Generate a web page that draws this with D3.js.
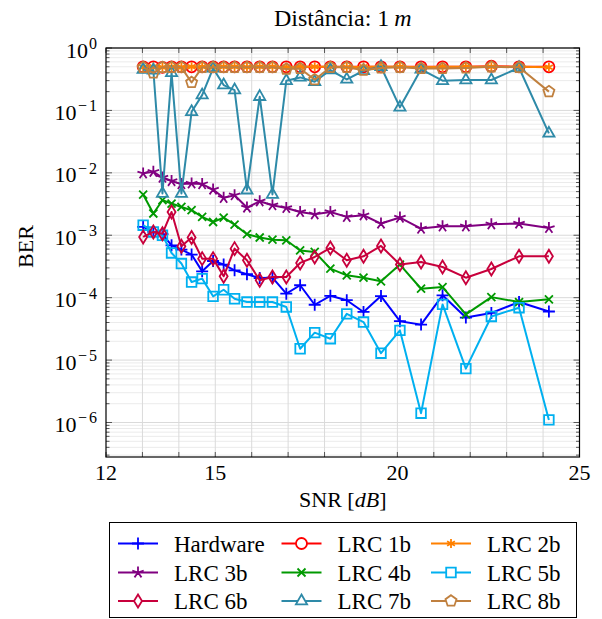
<!DOCTYPE html>
<html>
<head>
<meta charset="utf-8">
<script src="https://cdn.jsdelivr.net/npm/d3@7"></script>
</head>
<body style="margin:0">
<svg id="chart" width="602" height="619"></svg>
<script>
// SNR [dB] of each measurement point
const snr = [13.02, 13.30, 13.55, 13.80, 14.07, 14.35, 14.64, 14.94, 15.23, 15.53, 15.87, 16.22, 16.57, 16.95,
  17.33, 17.73, 18.16, 18.61, 19.07, 19.55, 20.07, 20.65, 21.24, 21.88, 22.58, 23.34, 24.16];

const hardware = [1.36e-3, 1.13e-3, 1.04e-3, 6.9e-4, 5.9e-4, 4.9e-4, 2.64e-4, 3.87e-4, 3.39e-4, 2.74e-4, 2.37e-4,
  2.06e-4, 2.09e-4, 1.16e-4, 1.58e-4, 7.7e-5, 1.07e-4, 9.1e-5, 5.9e-5, 1.06e-4, 4.2e-5, 3.7e-5, 1.09e-4, 4.8e-5,
  5.7e-5, 8.5e-5, 6.0e-5];
const lrc1b = [0.50, 0.50, 0.49, 0.50, 0.50, 0.50, 0.50, 0.50, 0.50, 0.50, 0.50, 0.50, 0.50, 0.50, 0.50, 0.50,
  0.50, 0.50, 0.50, 0.50, 0.50, 0.50, 0.50, 0.50, 0.51, 0.50, 0.50];
const lrc2b = [0.49, 0.50, 0.49, 0.50, 0.49, 0.50, 0.50, 0.49, 0.50, 0.50, 0.49, 0.50, 0.50, 0.49, 0.50, 0.50,
  0.50, 0.49, 0.50, 0.50, 0.50, 0.49, 0.50, 0.50, 0.50, 0.50, 0.49];
const lrc3b = [9.8e-3, 1.04e-2, 8.4e-3, 7.4e-3, 6.6e-3, 6.75e-3, 6.6e-3, 5.4e-3, 3.97e-3, 4.38e-3, 2.78e-3, 3.5e-3,
  3.03e-3, 2.74e-3, 2.36e-3, 2.17e-3, 2.36e-3, 1.97e-3, 2.09e-3, 1.54e-3, 1.92e-3, 1.28e-3, 1.39e-3, 1.39e-3,
  1.5e-3, 1.54e-3, 1.31e-3];
const lrc4b = [4.49e-3, 2.23e-3, 3.64e-3, 3.22e-3, 2.84e-3, 2.52e-3, 1.97e-3, 1.63e-3, 1.92e-3, 1.48e-3, 1.04e-3,
  9.2e-4, 8.5e-4, 8.3e-4, 5.7e-4, 5.4e-4, 2.92e-4, 2.28e-4, 2.09e-4, 1.83e-4, 3.39e-4, 1.39e-4, 1.48e-4, 5.4e-5,
  1.02e-4, 8.5e-5, 9.4e-5];
const lrc5b = [1.45e-3, 1.13e-3, 1.0e-3, 5.2e-4, 3.52e-4, 1.78e-4, 2.02e-4, 1.05e-4, 1.34e-4, 9.6e-5, 8.5e-5, 8.5e-5,
  8.5e-5, 7.1e-5, 1.52e-5, 2.75e-5, 2.2e-5, 5.5e-5, 4.07e-5, 1.29e-5, 2.99e-5, 1.41e-6, 7.8e-5, 7.3e-6, 5.0e-5,
  6.9e-5, 1.1e-6];
const lrc6b = [9.4e-4, 1.13e-3, 1.06e-3, 2.36e-3, 6.65e-4, 9.2e-4, 4.22e-4, 4.22e-4, 2.2e-4, 6.1e-4, 3.97e-4, 1.9e-4,
  2.14e-4, 2.14e-4, 3.6e-4, 4.49e-4, 6.25e-4, 3.97e-4, 4.6e-4, 6.73e-4, 3.39e-4, 3.73e-4, 3.1e-4, 2.09e-4, 2.88e-4,
  4.6e-4, 4.6e-4];
const lrc7b = [0.45, 0.44, 4.66e-3, 0.40, 4.66e-3, 0.095, 0.176, 0.472, 0.255, 0.212, 5.27e-3, 0.166, 4.5e-3, 0.299,
  0.338, 0.288, 0.443, 0.314, 0.432, 0.50, 0.112, 0.455, 0.299, 0.307, 0.307, 0.483, 0.0428];
const lrc8b = [0.49, 0.40, 0.49, 0.49, 0.49, 0.28, 0.49, 0.49, 0.49, 0.49, 0.49, 0.49, 0.49, 0.46, 0.47, 0.31, 0.49,
  0.49, 0.44, 0.48, 0.49, 0.47, 0.47, 0.48, 0.50, 0.49, 0.20];

const xTickLabels = [12, 15, 20, 25];
const yDecades = [0, -1, -2, -3, -4, -5, -6];

const series = [
  { name: 'Hardware', values: hardware, color: '#0000ff', mark: 'plus' },
  { name: 'LRC 1b', values: lrc1b, color: '#ff0000', mark: 'circle' },
  { name: 'LRC 2b', values: lrc2b, color: '#ff8000', mark: 'asterisk' },
  { name: 'LRC 3b', values: lrc3b, color: '#800080', mark: 'star' },
  { name: 'LRC 4b', values: lrc4b, color: '#009900', mark: 'x' },
  { name: 'LRC 5b', values: lrc5b, color: '#00b0f0', mark: 'square' },
  { name: 'LRC 6b', values: lrc6b, color: '#c8003c', mark: 'diamond' },
  { name: 'LRC 7b', values: lrc7b, color: '#2e8aa8', mark: 'triangle' },
  { name: 'LRC 8b', values: lrc8b, color: '#c0803f', mark: 'pentagon' }
];

const FONT = 'Liberation Serif';
const plot = { left: 106, right: 579.5, top: 48, bottom: 457 };

const svg = d3.select('#chart');

const x = d3.scaleLinear().domain([12, 25]).range([plot.left, plot.right]);
const y = d3.scaleLog().domain([2.8e-7, 1]).range([plot.bottom, plot.top]);

/**
 * Function to add a serif text element
 */
function addText(parent, size) {
  return parent.append('text')
    .attr('font-size', size)
    .style('font-family', FONT);
}

/**
 * Function to build a marker path centred on 0,0
 */
function markPath(type) {
  let p = '';
  switch (type) {
    case 'plus':
      return 'M-6,0H6M0,-6V6';
    case 'x':
      return 'M-4,-4L4,4M-4,4L4,-4';
    case 'circle':
      return 'M5.5,0A5.5,5.5 0 1,1 -5.5,0A5.5,5.5 0 1,1 5.5,0Z';
    case 'square':
      return 'M-4.8,-4.8H4.8V4.8H-4.8Z';
    case 'diamond':
      return 'M0,-6.5L4,0L0,6.5L-4,0Z';
    case 'triangle':
      return 'M0,-6.5L5.6,3.3H-5.6Z';
    case 'asterisk':
      for (let k = 0; k < 3; k++) {
        const a = Math.PI / 2 + k * Math.PI / 3;
        p += `M${-4.5 * Math.cos(a)},${-4.5 * Math.sin(a)}L${4.5 * Math.cos(a)},${4.5 * Math.sin(a)}`;
      }
      return p;
    case 'star':
      for (let k = 0; k < 5; k++) {
        const a = -Math.PI / 2 + k * 2 * Math.PI / 5;
        p += `M0,0L${6 * Math.cos(a)},${6 * Math.sin(a)}`;
      }
      return p;
    case 'pentagon':
      for (let k = 0; k < 5; k++) {
        const a = -Math.PI / 2 + k * 2 * Math.PI / 5;
        p += `${k ? 'L' : 'M'}${5.8 * Math.cos(a)},${5.8 * Math.sin(a)}`;
      }
      return p + 'Z';
  }
  return p;
}

// grid
const grid = svg.append('g');
const minorY = [];
yDecades.forEach(d => {
  for (let k = 2; k <= 9; k++) {
    const v = k * Math.pow(10, d - 1);
    if (v > y.domain()[0] && v < 1) minorY.push(v);
  }
});
grid.selectAll('.minor-y').data(minorY).enter().append('line')
  .attr('x1', plot.left).attr('x2', plot.right)
  .attr('y1', d => y(d)).attr('y2', d => y(d))
  .attr('stroke', '#ebebeb').attr('stroke-width', 1);
grid.selectAll('.major-y').data(yDecades).enter().append('line')
  .attr('x1', plot.left).attr('x2', plot.right)
  .attr('y1', d => y(Math.pow(10, d))).attr('y2', d => y(Math.pow(10, d)))
  .attr('stroke', '#dadada').attr('stroke-width', 1);
grid.selectAll('.major-x').data(d3.range(13, 25)).enter().append('line')
  .attr('x1', d => x(d)).attr('x2', d => x(d))
  .attr('y1', plot.top).attr('y2', plot.bottom)
  .attr('stroke', '#dadada').attr('stroke-width', 1);

// ticks (inside, on all four sides)
const ticks = svg.append('g').attr('stroke', '#555').attr('stroke-width', 1);
d3.range(12, 26).forEach(v => {
  ticks.append('line').attr('x1', x(v)).attr('x2', x(v)).attr('y1', plot.bottom).attr('y2', plot.bottom - 5);
  ticks.append('line').attr('x1', x(v)).attr('x2', x(v)).attr('y1', plot.top).attr('y2', plot.top + 5);
});
yDecades.forEach(d => {
  const yy = y(Math.pow(10, d));
  ticks.append('line').attr('x1', plot.left).attr('x2', plot.left + 6).attr('y1', yy).attr('y2', yy);
  ticks.append('line').attr('x1', plot.right).attr('x2', plot.right - 6).attr('y1', yy).attr('y2', yy);
});
minorY.forEach(v => {
  const yy = y(v);
  ticks.append('line').attr('x1', plot.left).attr('x2', plot.left + 3.5).attr('y1', yy).attr('y2', yy);
  ticks.append('line').attr('x1', plot.right).attr('x2', plot.right - 3.5).attr('y1', yy).attr('y2', yy);
});

// series
const line = d3.line().x(d => x(d[0])).y(d => y(d[1]));
series.forEach(s => {
  const pts = snr.map((v, i) => [v, s.values[i]]);
  const g = svg.append('g');
  g.append('path')
    .attr('d', line(pts))
    .attr('fill', 'none')
    .attr('stroke', s.color)
    .attr('stroke-width', 2)
    .attr('stroke-linejoin', 'round');
  g.selectAll('.mark').data(pts).enter().append('path')
    .attr('transform', d => `translate(${x(d[0])},${y(d[1])})`)
    .attr('d', markPath(s.mark))
    .attr('fill', 'none')
    .attr('stroke', s.color)
    .attr('stroke-width', 1.8);
});

// frame
svg.append('rect')
  .attr('x', plot.left).attr('y', plot.top)
  .attr('width', plot.right - plot.left).attr('height', plot.bottom - plot.top)
  .attr('fill', 'none').attr('stroke', '#000').attr('stroke-width', 1.2);

// tick labels
xTickLabels.forEach(v => {
  addText(svg, 22)
    .attr('x', x(v)).attr('y', plot.bottom + 23)
    .attr('text-anchor', 'middle')
    .text(v);
});
yDecades.forEach(d => {
  const t = addText(svg, 22)
    .attr('x', plot.left - 9).attr('y', y(Math.pow(10, d)) + 9.5)
    .attr('text-anchor', 'end');
  t.append('tspan').text('10');
  if (d === 0) {
    t.append('tspan').attr('dx', 1).attr('dy', -8.5).attr('font-size', 16).text('0');
  } else {
    t.append('tspan').attr('dx', 1.5).attr('dy', -8.5).attr('font-size', 16).text('\u2212');
    t.append('tspan').attr('dx', 2).attr('font-size', 16).text(-d);
  }
});

// axis titles
addText(svg, 22)
  .attr('x', (plot.left + plot.right) / 2).attr('y', 507)
  .attr('text-anchor', 'middle')
  .call(t => {
    t.append('tspan').text('SNR [');
    t.append('tspan').attr('font-style', 'italic').text('dB');
    t.append('tspan').text(']');
  });
addText(svg, 22)
  .attr('transform', `translate(33,${(plot.top + plot.bottom) / 2 - 6}) rotate(-90)`)
  .attr('text-anchor', 'middle')
  .text('BER');
addText(svg, 24)
  .attr('x', (plot.left + plot.right) / 2).attr('y', 26)
  .attr('text-anchor', 'middle')
  .call(t => {
    t.append('tspan').text('Distância: 1\u2009');
    t.append('tspan').attr('font-style', 'italic').text('m');
  });

// legend
const legend = svg.append('g');
legend.append('rect')
  .attr('x', 109.5).attr('y', 522.5).attr('width', 467).attr('height', 95)
  .attr('fill', '#fff').attr('stroke', '#000').attr('stroke-width', 1);
const colX = [118, 281.5, 431];
const rowY = [543.5, 572.5, 601];
series.forEach((s, i) => {
  const lx = colX[i % 3], ly = rowY[Math.floor(i / 3)];
  legend.append('line')
    .attr('x1', lx).attr('x2', lx + 40).attr('y1', ly).attr('y2', ly)
    .attr('stroke', s.color).attr('stroke-width', 2);
  legend.append('path')
    .attr('transform', `translate(${lx + 20},${ly})`)
    .attr('d', markPath(s.mark))
    .attr('fill', s.mark === 'circle' || s.mark === 'square' || s.mark === 'diamond' ||
      s.mark === 'triangle' || s.mark === 'pentagon' ? '#fff' : 'none')
    .attr('stroke', s.color).attr('stroke-width', 1.8);
  addText(legend, 23)
    .attr('x', lx + 56).attr('y', ly + 8)
    .text(s.name);
});
</script>
</body>
</html>
